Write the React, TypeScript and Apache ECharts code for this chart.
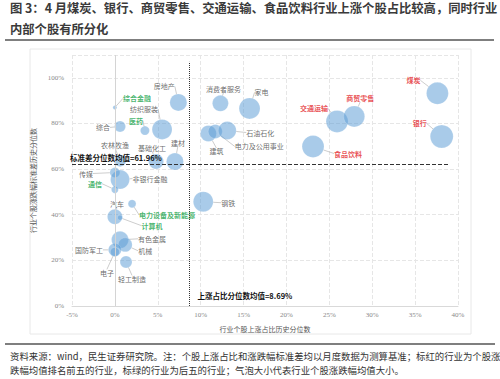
import { useEffect, useRef } from "react";
import * as echarts from "echarts";

// ---------- data ----------
const industries = [
  "房地产", "综合金融", "纺织服装", "消费者服务", "家电", "综合", "医药",
  "建筑", "电力及公用事业", "石油石化", "农林牧渔", "基础化工", "建材", "传媒",
  "非银行金融", "通信", "电力设备及新能源", "钢铁", "汽车", "计算机", "有色金属",
  "机械", "国防军工", "电子", "轻工制造", "交通运输", "商贸零售", "食品饮料",
  "煤炭", "银行",
];
// 行业个股上涨占比历史分位数 (%)
const upRatioPct = [
  7.4, 0.0, 5.5, 12.3, 15.7, 0.6, 3.5,
  10.9, 11.7, 13.1, 0.6, 4.8, 7.0, 0.0,
  0.6, 0.0, 2.0, 10.3, 0.0, 0.6, 0.6,
  1.2, 0.0, 0.0, 1.3, 25.9, 27.9, 23.1,
  37.6, 38.1,
];
// 行业个股涨跌幅标准差历史分位数 (%)
const stdPct = [
  89.2, 87.0, 77.4, 88.8, 86.6, 78.7, 76.9,
  75.6, 76.5, 76.9, 63.7, 63.3, 63.3, 58.5,
  55.4, 51.0, 44.8, 45.7, 39.1, 38.7, 29.0,
  26.8, 24.6, 23.7, 19.3, 80.9, 83.1, 69.9,
  93.2, 74.3,
];
// 气泡大小（行业个股涨跌幅均值的相对大小）
const bubbleValue = [
  17, 4, 20, 16, 21, 11, 9,
  16, 14, 18, 12, 15, 17, 10,
  19, 7, 8, 20, 15, 5, 17,
  14, 13, 9, 12, 22, 21, 22,
  22, 23,
];
const topFive = ["煤炭", "银行", "商贸零售", "交通运输", "食品饮料"];
const bottomFive = ["综合金融", "医药", "通信", "电力设备及新能源", "计算机"];
const meanUpRatio = 8.69;
const meanStd = 61.96;
const xTickMin = -5;
const xTickMax = 40;
const xTickStep = 5;
const yTickMin = 0;
const yTickMax = 110;
const yTickStep = 20;

// ---------- layout (label offsets in px, relative to bubble centre) ----------
const labelOffsets: Record<string, [number, number]> = {
  "房地产": [-14, -16],
  "综合金融": [22, -9],
  "纺织服装": [-18, -20],
  "消费者服务": [3, -14],
  "家电": [12, -16],
  "综合": [-17, 1],
  "医药": [-9, -10],
  "建筑": [8, 18],
  "电力及公用事业": [44, 15],
  "石油石化": [33, 2],
  "农林牧渔": [-5, -16],
  "基础化工": [-4, -14],
  "建材": [3, -19],
  "传媒": [-29, 1],
  "非银行金融": [30, -1],
  "通信": [-20, -6],
  "电力设备及新能源": [35, 11],
  "钢铁": [25, 1],
  "汽车": [2, -13],
  "计算机": [32, 8],
  "有色金属": [32, -1],
  "机械": [20, 6],
  "国防军工": [-26, 0],
  "电子": [-8, 21],
  "轻工制造": [6, 17],
  "交通运输": [-23, -13],
  "商贸零售": [6, -18],
  "食品饮料": [35, 7],
  "煤炭": [-24, -13],
  "银行": [-22, -13],
};

const CJK = '"Noto Sans CJK SC", "Noto Sans", sans-serif';
const SERIF = '"Liberation Serif", "DejaVu Serif", serif';

export default function App() {
  const ref = useRef<HTMLDivElement>(null);
  useEffect(() => {
    if (!ref.current) return;
    const chart = echarts.init(ref.current, undefined, { renderer: "svg" });

    const data = industries.map((name, i) => {
      const isTop = topFive.includes(name);
      const isBottom = bottomFive.includes(name);
      return {
        name,
        value: [upRatioPct[i], stdPct[i], bubbleValue[i]],
        label: {
          color: isTop ? "#e3262b" : isBottom ? "#17a34a" : "#444",
          fontWeight: isTop || isBottom ? "bold" : "normal",
        },
      };
    });

    chart.setOption({
      animation: false,
      backgroundColor: "#fff",
      grid: { left: 72, right: 42, top: 55, bottom: 73 },
      xAxis: {
        type: "value",
        min: xTickMin,
        max: xTickMax,
        interval: xTickStep,
        name: "行业个股上涨占比历史分位数",
        nameLocation: "middle",
        nameGap: 19,
        nameTextStyle: { fontSize: 7, color: "#555", fontFamily: CJK },
        axisLine: { show: true, lineStyle: { color: "#d9d9d9" } },
        axisTick: { show: false },
        axisLabel: {
          fontSize: 7,
          color: "#888",
          fontFamily: SERIF,
          margin: 5,
          formatter: (v: number) => `${v}%`,
        },
        splitLine: { show: true, lineStyle: { type: "dashed", color: "#e6e6e6" } },
      },
      yAxis: {
        type: "value",
        min: yTickMin,
        max: yTickMax,
        interval: yTickStep,
        name: "行业个股涨跌幅标准差历史分位数",
        nameLocation: "middle",
        nameGap: 28,
        nameTextStyle: { fontSize: 7, color: "#555", fontFamily: CJK },
        axisLine: { show: false },
        axisTick: { show: false },
        axisLabel: {
          fontSize: 7,
          color: "#888",
          fontFamily: SERIF,
          margin: 8,
          formatter: (v: number) => (v > 100 ? "" : `${v}%`),
        },
        splitLine: { show: true, lineStyle: { type: "dashed", color: "#e6e6e6" } },
      },
      graphic: [
        {
          type: "text",
          left: 10,
          top: 2,
          style: {
            text: "图 3：4 月煤炭、银行、商贸零售、交通运输、食品饮料行业上涨个股占比较高，同时行业",
            font: `bold 12.3px ${CJK}`,
            fill: "#3a3a3a",
          },
        },
        {
          type: "text",
          left: 10,
          top: 23,
          style: {
            text: "内部个股有所分化",
            font: `bold 12.3px ${CJK}`,
            fill: "#3a3a3a",
          },
        },
        {
          type: "line",
          shape: { x1: 5, y1: 40, x2: 494, y2: 40 },
          style: { stroke: "#555", lineWidth: 1.5 },
        },
        {
          type: "rect",
          z: -10,
          shape: { x: 30, y: 49, width: 441, height: 285 },
          style: { fill: "none", stroke: "#e8e8e8", lineWidth: 1 },
        },
        {
          type: "line",
          shape: { x1: 5, y1: 344, x2: 495, y2: 344 },
          style: { stroke: "#555", lineWidth: 1.5 },
        },
        {
          type: "text",
          left: 10,
          top: 351,
          style: {
            text: "资料来源：wind，民生证券研究院。注：个股上涨占比和涨跌幅标准差均以月度数据为测算基准；标红的行业为个股涨",
            font: `9.4px ${CJK}`,
            fill: "#333",
          },
        },
        {
          type: "text",
          left: 10,
          top: 365,
          style: {
            text: "跌幅均值排名前五的行业，标绿的行业为后五的行业；气泡大小代表行业个股涨跌幅均值大小。",
            font: `9.4px ${CJK}`,
            fill: "#333",
          },
        },
      ],
      series: [
        {
          type: "scatter",
          data,
          symbol: "circle",
          symbolSize: (val: number[]) => val[2],
          itemStyle: {
            color: "rgba(91,155,213,0.65)",
            borderColor: "rgba(255,255,255,0.4)",
            borderWidth: 0.5,
          },
          label: {
            show: true,
            position: "inside",
            formatter: (p: any) => p.name,
            fontSize: 7,
            fontFamily: CJK,
          },
          labelLine: {
            show: true,
            length2: 0,
            lineStyle: { color: "#9a9a9a", width: 0.5 },
          },
          labelLayout: (p: any) => {
            const name = industries[p.dataIndex];
            const off = labelOffsets[name] || [0, 0];
            return { dx: off[0], dy: off[1] };
          },
          markLine: {
            silent: true,
            symbol: "none",
            animation: false,
            data: [
              {
                xAxis: 0,
                lineStyle: { type: "solid", color: "#d4d4d4", width: 1 },
                label: { show: false },
              },
              [
                {
                  coord: [xTickMin, meanStd],
                  lineStyle: { type: "dashed", color: "#333", width: 1 },
                  label: {
                    show: true,
                    position: "insideStartTop",
                    distance: [-2, 3],
                    formatter: `标准差分位数均值=${meanStd}%`,
                    fontSize: 7.5,
                    fontWeight: "bold",
                    color: "#111",
                    fontFamily: CJK,
                  },
                },
                { coord: [39, meanStd] },
              ],
              [
                {
                  coord: [meanUpRatio, 0],
                  lineStyle: { type: "dotted", color: "#333", width: 1 },
                  label: { show: false },
                },
                { coord: [meanUpRatio, 107] },
              ],
            ],
          },
          markPoint: {
            silent: true,
            symbol: "circle",
            symbolSize: 0,
            data: [
              {
                coord: [meanUpRatio, 4.4],
                label: {
                  show: true,
                  position: "right",
                  distance: 8,
                  formatter: `上涨占比分位数均值=${meanUpRatio}%`,
                  fontSize: 7.5,
                  fontWeight: "bold",
                  color: "#111",
                  fontFamily: CJK,
                },
              },
            ],
          },
        },
      ],
    });
    return () => chart.dispose();
  }, []);

  return (
    <div
      ref={ref}
      style={{ position: "absolute", left: 0, top: 0, width: 500, height: 379, background: "#fff" }}
    />
  );
}
